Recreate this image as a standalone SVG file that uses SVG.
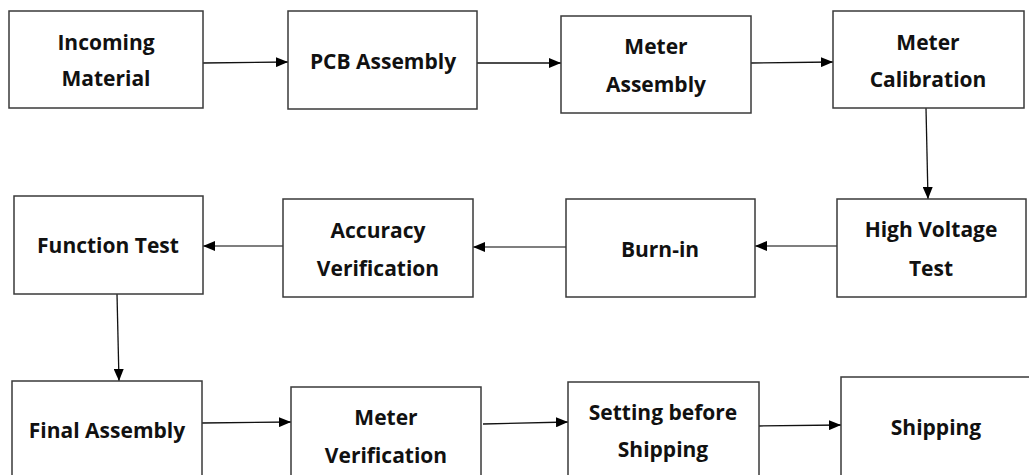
<svg xmlns="http://www.w3.org/2000/svg" width="1029" height="475" viewBox="0 0 1029 475">
  <style>
    .box { fill: #ffffff; stroke: #3a3a3a; stroke-width: 1.5; }
    .lbl { font-family: "Open Sans", "Liberation Sans", sans-serif; font-weight: 700; font-size: 21px; fill: #111111; text-anchor: middle; }
    .conn { fill: none; stroke: #111111; stroke-width: 1.3; marker-end: url(#arrow); }
    .conn.grey { stroke: #7f7f7f; stroke-width: 2; }
  </style>
  <defs>
    <marker id="arrow" markerUnits="userSpaceOnUse" markerWidth="12" markerHeight="10" refX="12" refY="5" orient="auto">
      <path d="M0,0 L12,5 L0,10 z" fill="#000000"/>
    </marker>
  </defs>
  <rect width="1029" height="475" fill="#ffffff"/>

  <g id="connectors">
    <path class="conn" d="M203,63 L288,62"/>
    <path class="conn" d="M477,63 L561,63"/>
    <path class="conn" d="M751,63 L833,62"/>
    <path class="conn" d="M926,108 L928,199"/>
    <path class="conn grey" d="M837,246 L755,246"/>
    <path class="conn grey" d="M566,247 L473,247"/>
    <path class="conn grey" d="M283,246 L203,246"/>
    <path class="conn" d="M117,294 L119,381"/>
    <path class="conn" d="M202,423 L291,422"/>
    <path class="conn" d="M483,424 L568,422"/>
    <path class="conn" d="M759,426 L841,425"/>
  </g>

  <g id="incoming-material">
    <rect class="box" x="9" y="11" width="194" height="97"/>
    <text class="lbl" x="106" y="50">Incoming</text>
    <text class="lbl" x="106" y="86">Material</text>
  </g>
  <g id="pcb-assembly">
    <rect class="box" x="288" y="11" width="189" height="98"/>
    <text class="lbl" x="383" y="69">PCB Assembly</text>
  </g>
  <g id="meter-assembly">
    <rect class="box" x="561" y="16" width="190" height="97"/>
    <text class="lbl" x="656" y="54">Meter</text>
    <text class="lbl" x="656" y="92">Assembly</text>
  </g>
  <g id="meter-calibration">
    <rect class="box" x="833" y="11" width="191" height="97"/>
    <text class="lbl" x="928" y="50">Meter</text>
    <text class="lbl" x="928" y="87">Calibration</text>
  </g>
  <g id="high-voltage-test">
    <rect class="box" x="837" y="199" width="189" height="98"/>
    <text class="lbl" x="931" y="237">High Voltage</text>
    <text class="lbl" x="931" y="276">Test</text>
  </g>
  <g id="burn-in">
    <rect class="box" x="566" y="199" width="189" height="98"/>
    <text class="lbl" x="660" y="257">Burn-in</text>
  </g>
  <g id="accuracy-verification">
    <rect class="box" x="283" y="199" width="190" height="98"/>
    <text class="lbl" x="378" y="238">Accuracy</text>
    <text class="lbl" x="378" y="276">Verification</text>
  </g>
  <g id="function-test">
    <rect class="box" x="14" y="196" width="189" height="98"/>
    <text class="lbl" x="108" y="253">Function Test</text>
  </g>
  <g id="final-assembly">
    <rect class="box" x="12" y="381" width="190" height="110"/>
    <text class="lbl" x="107" y="438">Final Assembly</text>
  </g>
  <g id="meter-verification">
    <rect class="box" x="291" y="387" width="190" height="100"/>
    <text class="lbl" x="386" y="425">Meter</text>
    <text class="lbl" x="386" y="463">Verification</text>
  </g>
  <g id="setting-before-shipping">
    <rect class="box" x="568" y="382" width="191" height="100"/>
    <text class="lbl" x="663" y="420">Setting before</text>
    <text class="lbl" x="663" y="457">Shipping</text>
  </g>
  <g id="shipping">
    <rect class="box" x="841" y="377" width="200" height="110"/>
    <text class="lbl" x="936" y="435">Shipping</text>
  </g>
</svg>
